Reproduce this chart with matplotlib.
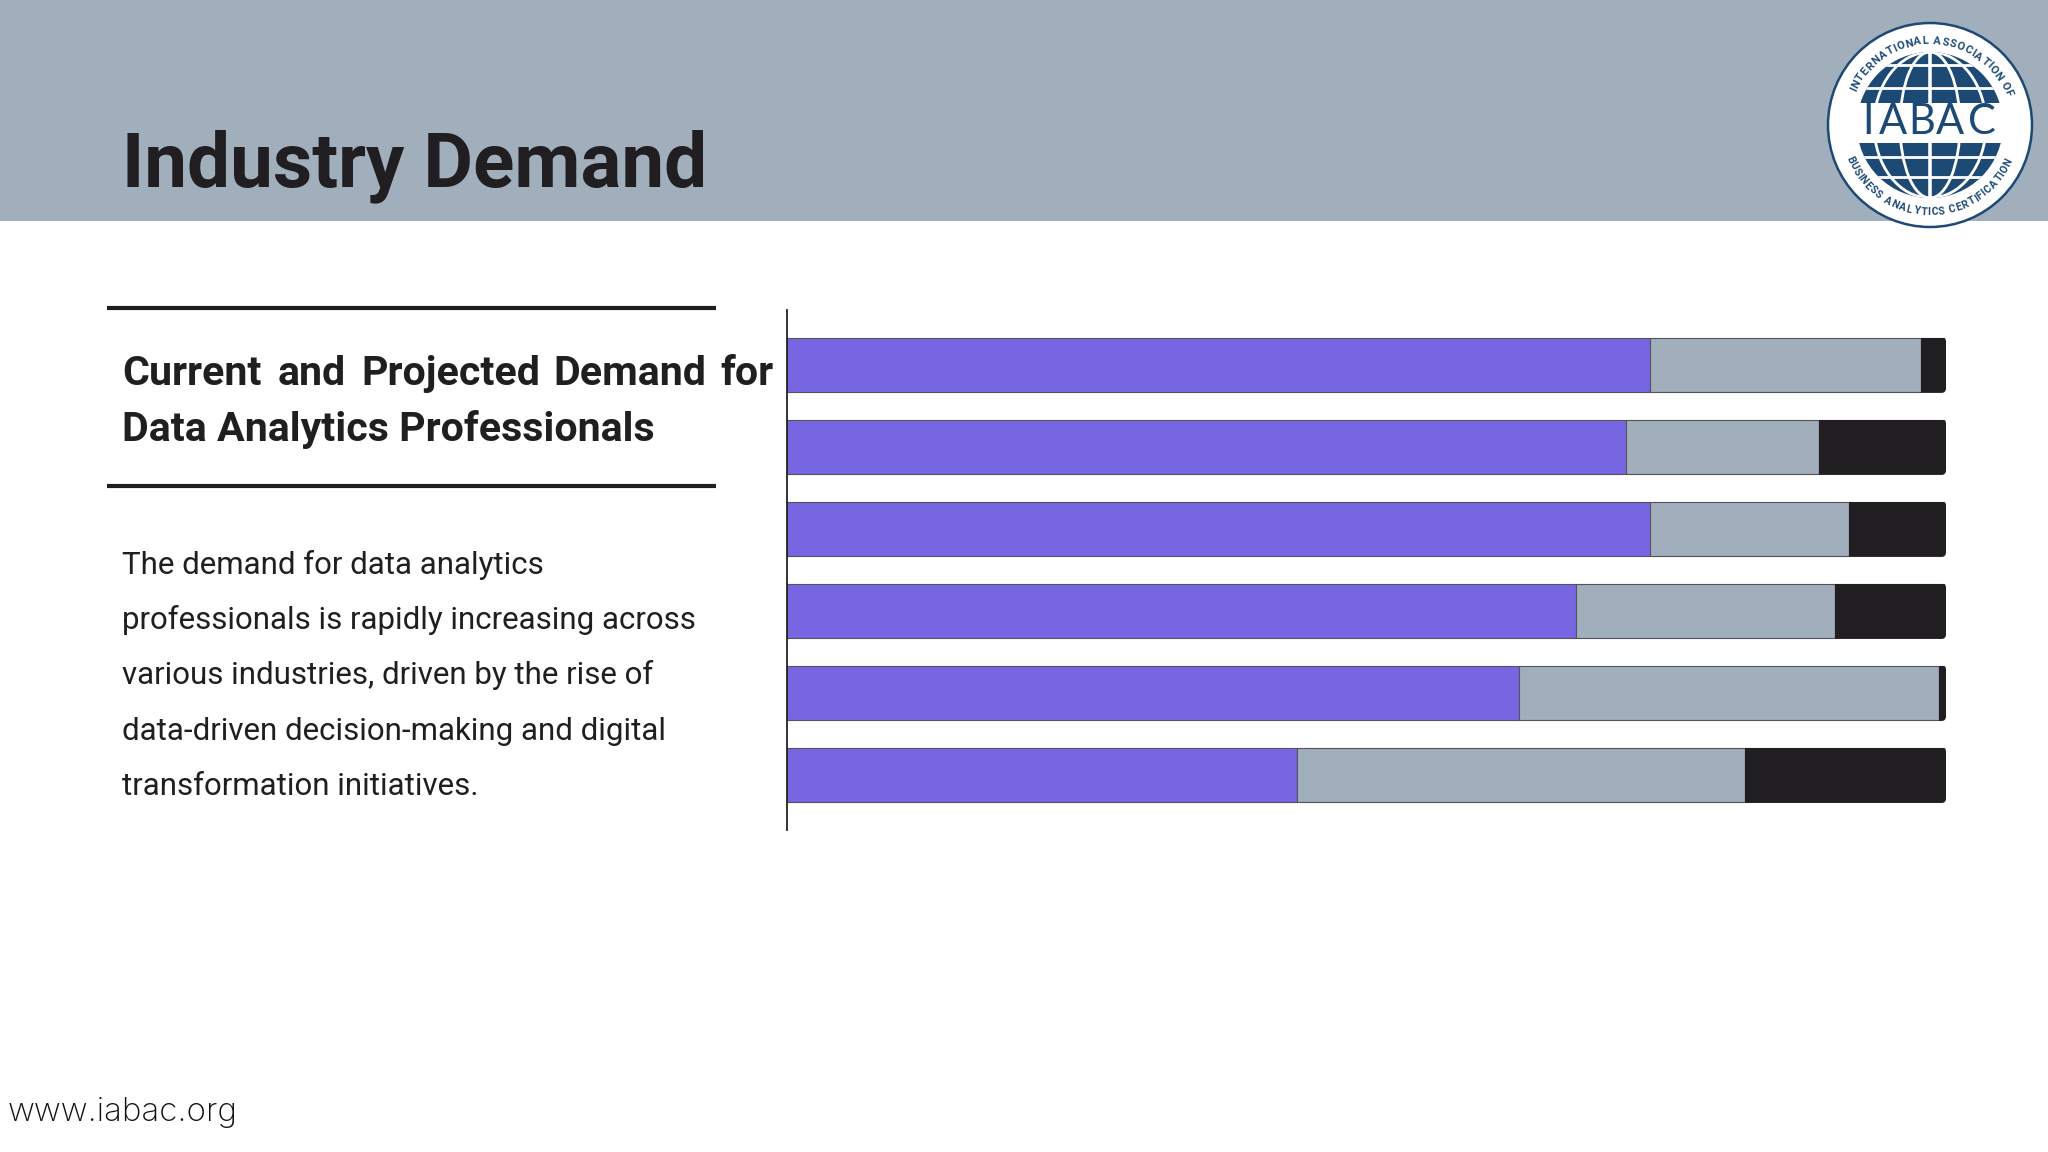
import numpy as np
import matplotlib
matplotlib.use("Agg")
import matplotlib.pyplot as plt
from matplotlib.font_manager import FontProperties
from matplotlib.patches import Circle, Ellipse, FancyBboxPatch, Rectangle
from matplotlib.textpath import TextPath

# values (share of each bar, percent)
current = [74.5, 72.4, 74.5, 68.1, 63.2, 44.0]
projected = [23.3, 16.6, 17.1, 22.3, 36.2, 38.7]
other = [2.2, 11.0, 8.4, 9.6, 0.6, 17.3]

title = "Industry Demand"
heading_top = "Current and Projected Demand for"
heading_bottom = "Data Analytics Professionals"
body = [
    "The demand for data analytics",
    "professionals is rapidly increasing across",
    "various industries, driven by the rise of",
    "data-driven decision-making and digital",
    "transformation initiatives.",
]
footer = "www.iabac.org"
logo_name = "IABAC"
logo_top = "INTERNATIONAL ASSOCIATION OF"
logo_bottom = "BUSINESS ANALYTICS CERTIFICATION"

PURPLE = "#7766e2"
GREY = "#a1aebc"
DARK = "#211e21"
NAVY = "#1d4a75"
W, H = 2048, 1152

fig = plt.figure(figsize=(W / 100, H / 100), dpi=100, facecolor="white")

# whole-slide layer in pixel coordinates
bg = fig.add_axes([0, 0, 1, 1])
bg.set_xlim(0, W)
bg.set_ylim(H, 0)
bg.axis("off")


def advances(chars, size, weight="bold"):
    fp = FontProperties(family="Roboto", weight=weight)
    out = []
    for c in chars:
        if c == " ":
            out.append(size * 0.3)
        else:
            out.append(TextPath((0, 0), c, size=size, prop=fp).get_extents().width + size * 0.12)
    return np.array(out)


def arc_text(s, radius, a0, a1, size, flip):
    w = advances(s, size)
    mids = np.cumsum(w) - w / 2
    angles = a0 + (a1 - a0) * mids / w.sum()
    for a, ch in zip(angles, s):
        r = np.radians(a)
        rot = a + 90 if flip else a - 90
        bg.text(cx + radius * np.cos(r), cy - radius * np.sin(r), ch, fontsize=size, fontweight="bold",
                family="Roboto", color=NAVY, ha="center", va="center", rotation=rot)


bg.add_patch(Rectangle((0, 0), W, 221, color=GREY, lw=0))
bg.text(122, 186, title, fontsize=55, fontweight="bold", family="Roboto", color=DARK, va="baseline")

bg.plot([107, 716], [308, 308], color=DARK, lw=3, solid_capstyle="butt")
bg.plot([107, 716], [486, 486], color=DARK, lw=3, solid_capstyle="butt")

# first heading line is justified to the column, so words are placed one by one
hw = 29.6
words = heading_top.split()
fp_h = FontProperties(family="Roboto", weight="bold", size=hw)
widths = [TextPath((0, 0), s, size=hw, prop=fp_h).get_extents().width * 100 / 72 for s in words]
gap = (772 - 122 - sum(widths)) / (len(words) - 1)
x = 122
for s, wd in zip(words, widths):
    bg.text(x, 385, s, fontsize=hw, fontweight="bold", family="Roboto", color=DARK, va="baseline")
    x += wd + gap
bg.text(122, 441, heading_bottom, fontsize=hw, fontweight="bold", family="Roboto", color=DARK, va="baseline")

for i, line in enumerate(body):
    bg.text(122, 564.5 + i * 55.5, line, fontsize=22.5, family="Roboto", color=DARK, va="center")
bg.text(8, 1121, footer, fontsize=23.8, family="Inter", fontweight="light", color="#111111", va="baseline")

# logo
cx, cy = 1930, 125
bg.add_patch(Circle((cx, cy), 102, fc="white", ec=NAVY, lw=1.8))
globe = Circle((cx, cy), 73, fc=NAVY, lw=0)
bg.add_patch(globe)
for w in [0, 30, 56]:
    e = Ellipse((cx, cy), max(w, 0.1) * 2, 146, fc="none", ec="white", lw=2.0)
    bg.add_patch(e)
    e.set_clip_path(globe)
for dy in [-60, -37, 32, 52]:
    ln, = bg.plot([cx - 80, cx + 80], [cy + dy, cy + dy], color="white", lw=2.0)
    ln.set_clip_path(globe)
bg.add_patch(Rectangle((cx - 80, cy - 22), 160, 40, fc="white", lw=0))
for dx, ch in zip([-62, -37, -8, 20, 52], logo_name):
    bg.text(cx + dx, cy - 3, ch, fontsize=30, family="Lato", color=NAVY, ha="center", va="center")

arc_text(logo_top, 84, 156, 20, 8, False)
arc_text(logo_bottom, 87, -159, -23, 7.5, True)

# stacked bars
ax = fig.add_axes([787 / W, 1 - 830 / H, (1946 - 787) / W, 520 / H])
ax.patch.set_alpha(0)
y = np.arange(len(current))
cur = np.array(current)
pro = np.array(projected)
oth = np.array(other)
edge = dict(edgecolor="#55525f", linewidth=0.8)
ax.barh(y, cur, height=0.66, color=PURPLE, **edge)
ax.barh(y, pro, left=cur, height=0.66, color=GREY, **edge)
dark_bars = ax.barh(y, oth, left=cur + pro, height=0.66, color=DARK, edgecolor=DARK, linewidth=0.8)
ax.set_xlim(0, 100)
ax.set_ylim(5.67, -0.67)

# small rounded corners on the right end of each bar
px_x, px_y = 11.59, 82.0
for yi, bar in zip(y, dark_bars):
    clip = FancyBboxPatch((0, yi - 0.34), 100, 0.68, boxstyle="round,pad=0,rounding_size=0.4",
                          mutation_aspect=px_x / px_y, transform=ax.transData, fc="none", lw=0)
    ax.add_patch(clip)
    bar.set_clip_path(clip)

ax.set_xticks([])
ax.set_yticks([])
for side in ["top", "right", "bottom"]:
    ax.spines[side].set_visible(False)
ax.spines["left"].set_color("#222222")
ax.spines["left"].set_linewidth(1.3)

fig.savefig("out.png", dpi=100)
